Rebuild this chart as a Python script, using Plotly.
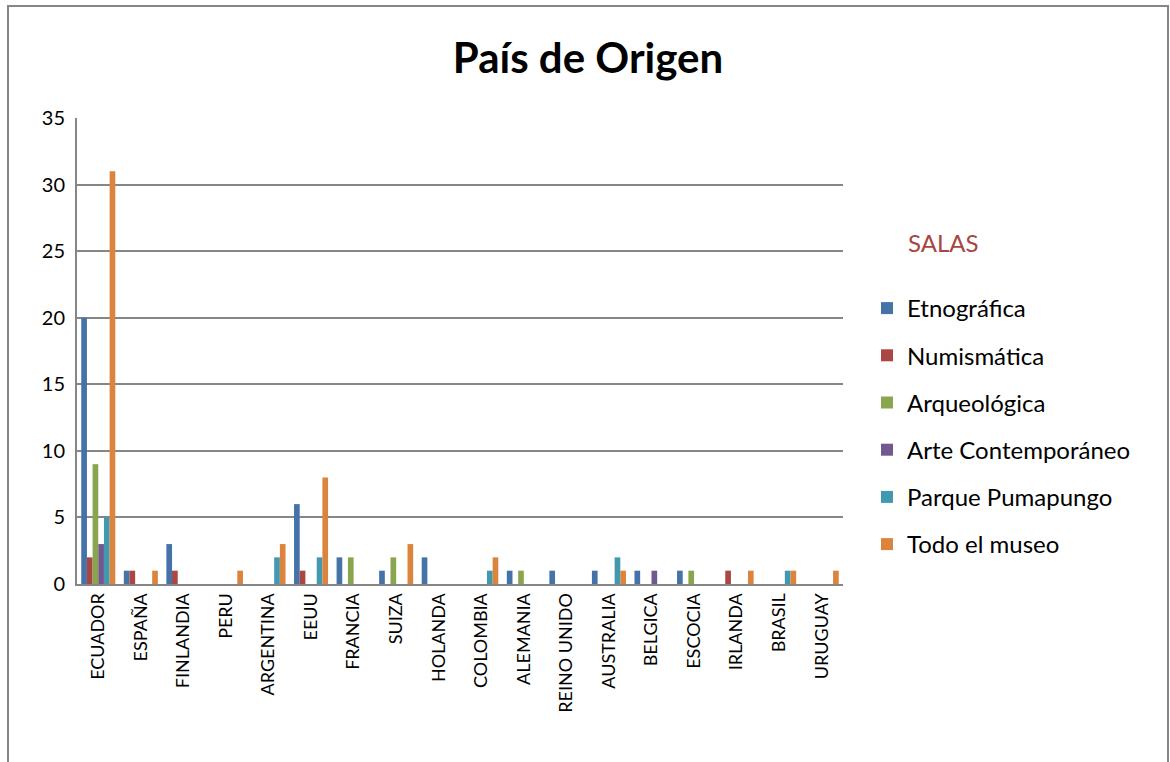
import plotly.graph_objects as go

countries = ["ECUADOR", "ESPAÑA", "FINLANDIA", "PERU", "ARGENTINA", "EEUU", "FRANCIA",
             "SUIZA", "HOLANDA", "COLOMBIA", "ALEMANIA", "REINO UNIDO", "AUSTRALIA",
             "BELGICA", "ESCOCIA", "IRLANDA", "BRASIL", "URUGUAY"]

etnografica = [20, 1, 3, 0, 0, 6, 2, 1, 2, 0, 1, 1, 1, 1, 1, 0, 0, 0]
numismatica = [2, 1, 1, 0, 0, 1, 0, 0, 0, 0, 0, 0, 0, 0, 0, 1, 0, 0]
arqueologica = [9, 0, 0, 0, 0, 0, 2, 2, 0, 0, 1, 0, 0, 0, 1, 0, 0, 0]
arte_contemporaneo = [3, 0, 0, 0, 0, 0, 0, 0, 0, 0, 0, 0, 0, 1, 0, 0, 0, 0]
parque_pumapungo = [5, 0, 0, 0, 2, 2, 0, 0, 0, 1, 0, 0, 2, 0, 0, 0, 1, 0]
todo_el_museo = [31, 1, 0, 1, 3, 8, 0, 3, 0, 2, 0, 0, 1, 0, 0, 1, 1, 1]

series = [
    ("Etnográfica", etnografica, "#4572A7"),
    ("Numismática", numismatica, "#AA4643"),
    ("Arqueológica", arqueologica, "#89A54E"),
    ("Arte Contemporáneo", arte_contemporaneo, "#71588F"),
    ("Parque Pumapungo", parque_pumapungo, "#4198AF"),
    ("Todo el museo", todo_el_museo, "#DB843D"),
]

FONT = "Lato, 'Open Sans', sans-serif"

fig = go.Figure()
for i, (name, vals, color) in enumerate(series):
    fig.add_trace(go.Bar(x=countries, y=vals, name=name, marker_color=color,
                         marker_line_width=0, legendgroup=f"g{i}"))

fig.update_layout(
    width=1170, height=762,
    margin=dict(l=77, r=327, t=118, b=178),
    paper_bgcolor="white", plot_bgcolor="white",
    barmode="group", bargap=0.2, bargroupgap=0,
    font=dict(family=FONT, color="black"),
    title=dict(text="<b>País de Origen</b>", x=588 / 1170, xanchor="center",
               y=1 - 58 / 762, yanchor="middle", font=dict(size=42, family=FONT)),
    xaxis=dict(tickangle=-90, tickfont=dict(size=18), showline=True, linecolor="#868686",
               linewidth=2, ticks="", showgrid=False),
    yaxis=dict(range=[0, 35], dtick=5, tickfont=dict(size=20), showline=True,
               linecolor="#868686", linewidth=2, gridcolor="#868686", gridwidth=1.5,
               ticks="", zeroline=False, ticklabelstandoff=6),
    legend=dict(x=(867 - 77) / 766, y=(584 - 286) / 466, xanchor="left", yanchor="top",
                font=dict(size=24), tracegroupgap=13, itemwidth=30,
                bgcolor="rgba(0,0,0,0)"),
    showlegend=True,
)

fig.add_annotation(text="SALAS", xref="paper", yref="paper",
                   x=(906 - 77) / 766, y=(584 - 242) / 466, xanchor="left", yanchor="middle",
                   showarrow=False, font=dict(size=24, color="#A94442", family=FONT))

fig.add_shape(type="rect", xref="paper", yref="paper",
              x0=(8 - 77) / 766, x1=(1168 - 77) / 766,
              y0=(584 - 780) / 466, y1=(584 - 6) / 466,
              line=dict(color="#868686", width=2), fillcolor="rgba(0,0,0,0)", layer="below")

fig.write_html("out.html", config={"displayModeBar": False},
               post_script="document.body.style.margin='0';document.body.style.padding='0';")
